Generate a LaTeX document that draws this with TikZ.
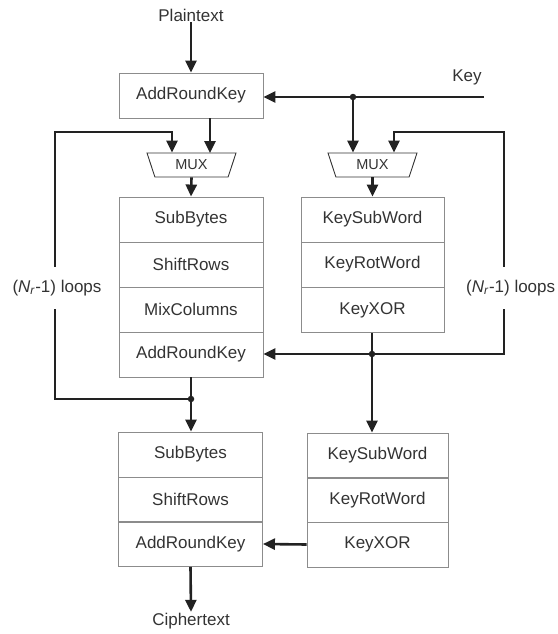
\documentclass[tikz,border=0pt]{standalone}
\usepackage{fontspec}
\setmainfont{Liberation Sans}
\usetikzlibrary{arrows.meta,shapes.geometric}

\definecolor{txt}{HTML}{333333}
\definecolor{wire}{HTML}{222222}
\definecolor{frame}{HTML}{8C8C8C}

\tikzset{
  cell/.style={draw=frame, line width=0.9pt, rectangle, inner sep=0pt,
               minimum height=45pt, text=txt, font=\fontsize{17}{20}\selectfont},
  lcell/.style={cell, minimum width=144pt},
  rcell/.style={cell, minimum width=143pt},
  brcell/.style={cell, minimum width=141pt},
  mux/.style={draw=txt, line width=0.9pt, trapezium, trapezium stretches body,
              shape border rotate=180, trapezium left angle=52, trapezium right angle=52,
              minimum width=89pt, minimum height=24pt, inner sep=0pt,
              text=txt, font=\fontsize{14.5}{16}\selectfont},
  lbl/.style={text=txt, font=\fontsize{17}{20}\selectfont, inner sep=1pt},
  looplbl/.style={lbl, fill=white, inner xsep=1pt, inner ysep=13pt},
  wireline/.style={draw=wire, line width=2.6pt},
  arr/.style={wireline, -{Triangle[length=12pt,width=11pt]}},
  dot/.style={circle, fill=wire, inner sep=0pt, minimum size=6.5pt}
}

\begin{document}
\begin{tikzpicture}[x=1pt, y=-1pt]
\useasboundingbox (0,0) rectangle (557,634);

% inputs
\node[lbl] (plain) at (191,15) {Plaintext};
\node[lbl] (key) at (467,77) {Key};

% initial round key addition
\node[lcell] (ark0) at (191,95.5) {AddRoundKey};

% multiplexers
\node[mux] (muxL) at (191.5,165) {MUX};
\node[mux] (muxR) at (372.5,165) {MUX};

% round datapath
\node[lcell] (sb1) at (191,219.5) {SubBytes};
\node[lcell] (sr1) at (191,264.5) {ShiftRows};
\node[lcell] (mc1) at (191,309.5) {MixColumns};
\node[lcell] (ark1) at (191,354.5) {AddRoundKey};

% key expansion
\node[rcell] (ksw1) at (372.5,219.5) {KeySubWord};
\node[rcell] (krw1) at (372.5,264.5) {KeyRotWord};
\node[rcell] (kx1) at (372.5,310) {KeyXOR};

% final round
\node[lcell] (sb2) at (190.5,454.5) {SubBytes};
\node[lcell] (sr2) at (190.5,499.5) {ShiftRows};
\node[lcell] (ark2) at (190.5,544) {AddRoundKey};

\node[brcell] (ksw2) at (377.5,455.5) {KeySubWord};
\node[brcell] (krw2) at (377.5,500) {KeyRotWord};
\node[brcell] (kx2) at (377.5,544.5) {KeyXOR};

\node[lbl] (cipher) at (191,621) {Ciphertext};

% wire routing points
\coordinate (keyin) at (484,97);
\coordinate (jK) at (353,97);
\coordinate (jL) at (191,399);
\coordinate (jR) at (372,354);
\coordinate (lpB) at (55,399);
\coordinate (lpT) at (55,132);
\coordinate (lpM) at (172,132);
\coordinate (rpB) at (504,354);
\coordinate (rpT) at (504,132);
\coordinate (rpM) at (394,132);

% wires
\draw[arr] (plain) -- (ark0);
\draw[arr] (keyin) -- (ark0.east |- keyin);
\draw[arr] (jK) -- (jK |- muxR.north);
\draw[arr] (ark0.south -| 210,0) -- (210,153);
\draw[arr] (jL) -- (lpB) -- (lpT) -- (lpM) -- (lpM |- muxL.north);
\draw[arr] (muxL.south) -- (sb1.north);
\draw[arr] (muxR.south) -- (ksw1.north -| muxR.south);
\draw[wireline] (ark1.south) -- (jL);
\draw[arr] (jL) -- (sb2.north -| jL);
\draw[wireline] (kx1.south -| jR) -- (jR);
\draw[arr] (jR) -- (ksw2.north -| jR);
\draw[arr] (jR) -- (ark1.east |- jR);
\draw[arr] (jR) -- (rpB) -- (rpT) -- (rpM) -- (rpM |- muxR.north);
\draw[arr] (kx2.west) -- (ark2.east);
\draw[arr] (ark2.south) -- (cipher.north);

% junction dots
\node[dot] (dK) at (jK) {};
\node[dot] (dL) at (jL) {};
\node[dot] (dR) at (jR) {};

% loop counters
\node[looplbl] (loopL) at (57,288) {(\textit{N}\textsubscript{\textit{r}}-1) loops};
\node[looplbl, anchor=west] (loopR) at (465,288) {(\textit{N}\textsubscript{\textit{r}}-1) loops};
\end{tikzpicture}
\end{document}
